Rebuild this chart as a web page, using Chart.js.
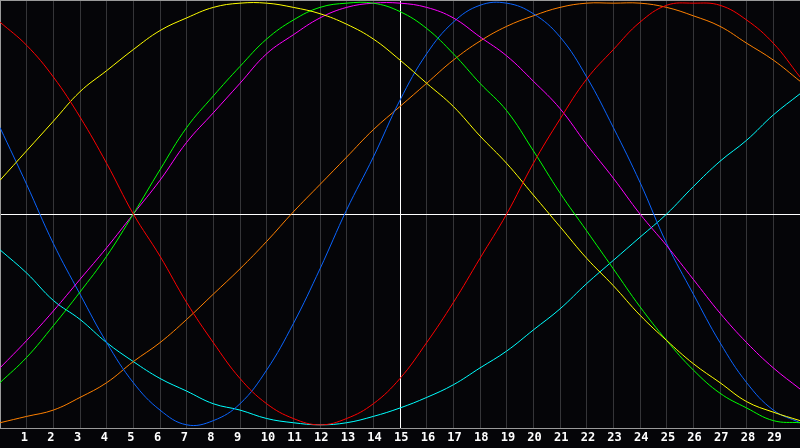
<!DOCTYPE html>
<html><head><meta charset="utf-8">
<script src="https://cdn.jsdelivr.net/npm/chart.js@4.4.0/dist/chart.umd.min.js"></script>
<style>html,body{margin:0;padding:0;background:#050508;overflow:hidden}#wrap{width:800px;height:448px;position:relative}</style>
</head><body><div id="wrap"><canvas id="c"></canvas></div>
<script>
const xValues = [0,1,2,3,4,5,6,7,8,9,10,11,12,13,14,15,16,17,18,19,20,21,22,23,24,25,26,27,28,29,30];
const tickValues = [1,2,3,4,5,6,7,8,9,10,11,12,13,14,15,16,17,18,19,20,21,22,23,24,25,26,27,28,29];
const redSeries     = [91,80,65,46,24,0,-20,-42,-61,-78,-90,-97,-100,-97,-90,-78,-61,-42,-21,0,24,45,64,78,91,99,100,99,92,81,65];
const yellowSeries  = [16,30,44,58,68,78,87,93,98,100,100,98,95,90,83,73,62,51,37,24,9,-6,-21,-34,-48,-60,-71,-80,-89,-94,-98];
const greenSeries   = [-80,-68,-53,-37,-20,0,21,41,56,70,83,92,98,100,100,96,88,76,62,49,30,10,-8,-26,-44,-60,-74,-85,-92,-98,-99];
const magentaSeries = [-73,-60,-46,-31,-16,0,16,34,48,62,76,85,93,98,100,100,98,93,84,75,63,50,33,17,0,-15,-31,-47,-61,-73,-83];
const blueSeries    = [41,14,-14,-38,-61,-80,-93,-100,-98,-90,-74,-52,-26,2,27,54,76,91,99,100,95,84,65,41,15,-14,-38,-61,-80,-93,-99];
const orangeSeries  = [-99,-96,-93,-87,-80,-70,-61,-50,-38,-26,-13,1,14,27,40,51,62,73,82,89,94,98,100,100,100,98,94,89,81,73,63];
const cyanSeries    = [-17,-28,-41,-50,-61,-70,-78,-84,-90,-93,-97,-99,-100,-99,-96,-92,-87,-81,-73,-65,-55,-45,-33,-22,-11,0,13,25,35,47,57];

const seriesList = [
  {name:'red', data:redSeries, color:'#ff0000'},
  {name:'yellow', data:yellowSeries, color:'#ffff00'},
  {name:'green', data:greenSeries, color:'#00ff00'},
  {name:'magenta', data:magentaSeries, color:'#ff00ff'},
  {name:'blue', data:blueSeries, color:'#0a64ff'},
  {name:'orange', data:orangeSeries, color:'#ff8000'},
  {name:'cyan', data:cyanSeries, color:'#00ffff'}
];

const bgPlugin = {
  id:'bg',
  beforeDraw(chart){
    const c = chart.ctx;
    c.save(); c.fillStyle = '#050508'; c.fillRect(0,0,chart.width,chart.height); c.restore();
  },
  afterDraw(chart){
    const c = chart.ctx, a = chart.chartArea;
    c.save(); c.strokeStyle = '#9a9a9a'; c.lineWidth = 1;
    c.beginPath(); c.moveTo(a.left, a.top + 0.5); c.lineTo(a.right, a.top + 0.5); c.stroke();
    c.restore();
  }
};

new Chart(document.getElementById('c'), {
  type:'line',
  data:{
    datasets: seriesList.map(s => ({
      label:s.name,
      data:xValues.map((x,i)=>({x:x, y:s.data[i]})),
      borderColor:s.color,
      borderWidth:1,
      pointRadius:0,
      fill:false,
      tension:0.4
    }))
  },
  options:{
    responsive:true, maintainAspectRatio:false, animation:false, devicePixelRatio:1,
    layout:{padding:0},
    plugins:{legend:{display:false}, tooltip:{enabled:false}},
    scales:{
      x:{
        type:'linear', min:0, max:30,
        afterBuildTicks(scale){ scale.ticks = tickValues.map(v=>({value:v})); },
        grid:{drawTicks:false, color:(ctx)=> ctx.tick && ctx.tick.value===15 ? '#ffffff' : '#353538', lineWidth:1},
        border:{display:true, color:'#9a9a9a', width:1},
        ticks:{color:'#ffffff', font:{family:'"DejaVu Sans Mono", monospace', size:12, weight:'bold', lineHeight:1.2}, padding:2.8, align:'start', labelOffset:-6, maxRotation:0, autoSkip:false,
          callback:(v)=> String(v)}
      },
      y:{
        type:'linear', min:-101.5, max:101.5,
        afterBuildTicks(scale){ scale.ticks = [{value:0}]; },
        grid:{drawTicks:false, color:'#ffffff', lineWidth:1},
        border:{display:true, color:'#9a9a9a', width:1},
        ticks:{display:false}
      }
    }
  },
  plugins:[bgPlugin]
});
</script></body></html>
